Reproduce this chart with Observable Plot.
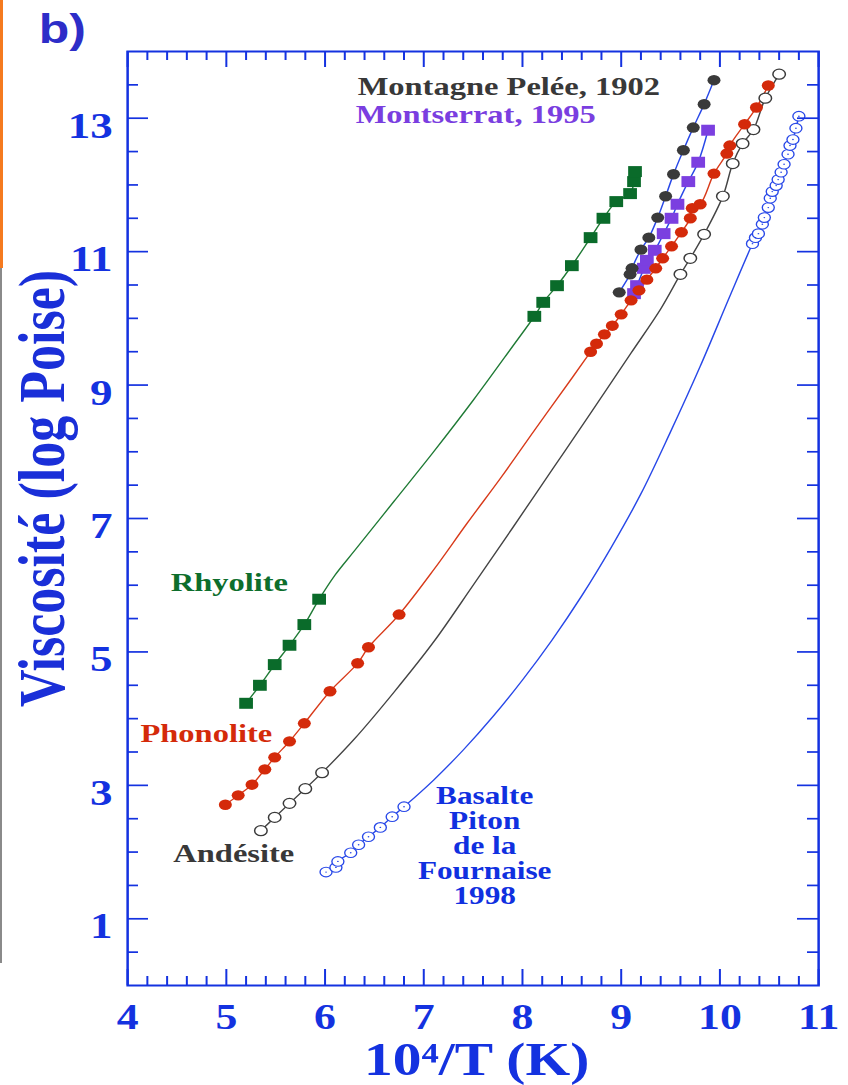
<!DOCTYPE html>
<html><head><meta charset="utf-8">
<script src="https://cdn.jsdelivr.net/npm/d3@7"></script>
<script src="https://cdn.jsdelivr.net/npm/@observablehq/plot@0.6"></script>
<style>
html,body{margin:0;padding:0;background:#fff;}
#wrap{position:relative;width:848px;height:1085px;overflow:hidden;background:#fff;}
#chart{position:absolute;left:0;top:0;}
#orange{position:absolute;left:0;top:0;width:3px;height:268px;background:#f57a1f;}
#gray{position:absolute;left:0;top:268px;width:2px;height:695px;background:#8a8a8a;}
</style></head><body>
<div id="wrap"><div id="chart"></div><div id="orange"></div><div id="gray"></div></div>
<script>
// ---------- data (x = 10^4/T, y = log viscosity) ----------
const rhyolite = [[5.20,4.23],[5.34,4.50],[5.49,4.81],[5.64,5.10],[5.79,5.41],[5.94,5.79],
  [8.12,10.03],[8.21,10.24],[8.35,10.49],[8.50,10.79],[8.69,11.21],[8.82,11.50],[8.95,11.75],[9.09,11.87],[9.13,12.05],[9.14,12.20]];
const rhyoliteFit = [[6.10,6.15],[6.30,6.52],[6.70,7.26],[7.10,8.00],[7.50,8.77],[7.90,9.58]];

const phonolite = [[4.99,2.71],[5.12,2.85],[5.26,3.01],[5.39,3.24],[5.49,3.42],[5.64,3.66],[5.79,3.93],[6.05,4.41],[6.33,4.83],[6.44,5.07],[6.75,5.56],
  [8.69,9.50],[8.75,9.62],[8.83,9.76],[8.91,9.89],[9.00,10.06],[9.10,10.27],[9.18,10.42],[9.26,10.58],[9.35,10.75],[9.42,10.90],[9.51,11.08],[9.61,11.29],[9.70,11.50],[9.72,11.65],[9.80,11.71],[9.94,12.17],[10.07,12.47],[10.10,12.59],[10.25,12.91],[10.37,13.16],[10.49,13.49]];
const phonoliteFit = [[7.11,6.25],[7.44,6.93],[7.79,7.63],[8.12,8.32],[8.47,9.04]];

const andesite = [[5.35,2.32],[5.49,2.52],[5.64,2.73],[5.80,2.95],[5.97,3.19],
  [9.60,10.66],[9.70,10.90],[9.84,11.26],[10.03,11.83],[10.13,12.32],[10.23,12.62],[10.34,12.83],[10.46,13.30],[10.60,13.66]];
const andesiteFit = [[6.30,3.70],[6.70,4.40],[7.10,5.15],[7.50,6.00],[7.90,6.86],[8.30,7.73],[8.70,8.60],[9.10,9.48],[9.40,10.14]];

const basalte = [[6.01,1.70],[6.11,1.77],[6.13,1.86],[6.26,1.99],[6.34,2.11],[6.44,2.23],[6.56,2.37],[6.68,2.53],[6.80,2.68],
  [10.33,11.12],[10.36,11.21],[10.39,11.27],[10.43,11.41],[10.45,11.51],[10.49,11.66],[10.51,11.80],[10.53,11.90],[10.57,11.99],[10.59,12.08],[10.62,12.19],[10.65,12.31],[10.69,12.46],[10.71,12.59],[10.74,12.68],[10.77,12.85],[10.80,13.03]];
const basalteFit = [[7.10,3.08],[7.40,3.53],[7.70,4.03],[8.00,4.58],[8.30,5.18],[8.60,5.84],[8.90,6.57],[9.20,7.37],[9.50,8.30],[9.80,9.28],[10.10,10.33]];

const pelee = [[8.98,10.39],[9.09,10.66],[9.11,10.75],[9.20,11.03],[9.28,11.21],[9.37,11.51],[9.45,11.83],[9.53,12.16],[9.63,12.52],[9.73,12.86],[9.84,13.21],[9.94,13.57]];
const montserrat = [[9.13,10.37],[9.16,10.49],[9.23,10.75],[9.26,10.87],[9.34,11.02],[9.43,11.27],[9.51,11.50],[9.57,11.71],[9.68,12.05],[9.78,12.34],[9.88,12.82]];

// ---------- ticks & labels ----------
const xTickLabels = [4,5,6,7,8,9,10,11];
const yTickLabels = [1,3,5,7,9,11,13];
const xMinorTicks = d3.range(0, 36).map(i => +(4 + i*0.2).toFixed(1)).filter(v => !Number.isInteger(v));
const yMinorTicks = d3.range(1, 28).map(i => i*0.5).filter(v => !(Number.isInteger(v) && v % 2 === 1));
const xAxisTitle = "10\u2074/T (K)";
const yAxisTitle = "Viscosité (log Poise)";
const panelLabel = "b)";
const annotations = [
  {text:"Montagne Pelée, 1902", x:6.33, y:13.47, color:"#383838"},
  {text:"Montserrat, 1995", x:6.31, y:13.05, color:"#7a3ee0"},
  {text:"Rhyolite", x:4.436, y:6.045, color:"#0d6e2c"},
  {text:"Phonolite", x:4.13, y:3.78, color:"#d42a0a"},
  {text:"Andésite", x:4.463, y:1.973, color:"#383838"}
];
const basaltLabel = {text:"Basalte\nPiton\nde la\nFournaise\n1998", x:7.617, y:2.094, color:"#1030e0"};

// ---------- layout ----------
const SX = 1.25;                 // horizontal stretch of the original figure
const W = 848 / SX, H = 1085;
const mL = 127 / SX, mR = 30 / SX, mT = 51, mB = 100;
const innerW = W - mL - mR, innerH = H - mT - mB;
const AX = "#1432e0";
const GREEN = "#0a6b2a", RED = "#d42a0a", DARK = "#3a3a3a", BLUE = "#2848e8", PURPLE = "#7b3fe0";

const pts = a => a.map(([x,y]) => ({x,y}));
const lineOf = (data, fit=[]) => [...data, ...fit].sort((a,b) => a[0]-b[0]).map(([x,y]) => ({x,y}));

const serif = "'Liberation Serif','Times New Roman',serif";

const marks = [
  // fitted curves
  Plot.line(lineOf(rhyolite, rhyoliteFit), {x:"x", y:"y", stroke:"#1f7a35", strokeWidth:1.2, curve:"catmull-rom"}),
  Plot.line(lineOf(phonolite, phonoliteFit), {x:"x", y:"y", stroke:"#d83a1a", strokeWidth:1.2, curve:"catmull-rom"}),
  Plot.line(lineOf(andesite, andesiteFit), {x:"x", y:"y", stroke:"#444", strokeWidth:1.2, curve:"catmull-rom"}),
  Plot.line(lineOf(basalte, basalteFit), {x:"x", y:"y", stroke:BLUE, strokeWidth:1.2, curve:"catmull-rom"}),
  Plot.line(lineOf(pelee), {x:"x", y:"y", stroke:BLUE, strokeWidth:1.2, curve:"catmull-rom"}),
  Plot.line(lineOf(montserrat), {x:"x", y:"y", stroke:BLUE, strokeWidth:1.2, curve:"catmull-rom"}),
  // data points
  Plot.dot(pts(rhyolite), {x:"x", y:"y", symbol:"square", r:6.2, fill:GREEN}),
  Plot.dot(pts(andesite), {x:"x", y:"y", r:5, fill:"white", stroke:DARK, strokeWidth:1.2}),
  Plot.dot(pts(basalte), {x:"x", y:"y", r:4.8, fill:"white", stroke:BLUE, strokeWidth:1.1}),
  Plot.dot(pts(basalte), {x:"x", y:"y", r:0.7, fill:BLUE}),
  Plot.dot(pts(montserrat), {x:"x", y:"y", symbol:"square", r:6.2, fill:PURPLE}),
  Plot.dot(pts(pelee), {x:"x", y:"y", r:5.2, fill:DARK}),
  Plot.dot(pts(phonolite), {x:"x", y:"y", r:5.2, fill:RED}),
  // frame and inward ticks
  Plot.frame({stroke:AX, strokeWidth:2}),
  Plot.ruleX(xMinorTicks, {x:d=>d, stroke:AX, strokeWidth:1.6, insetTop: innerH - 9}),
  Plot.ruleX(xTickLabels, {x:d=>d, stroke:AX, strokeWidth:1.6, insetTop: innerH - 16}),
  Plot.ruleX(xMinorTicks, {x:d=>d, stroke:AX, strokeWidth:1.6, insetBottom: innerH - 9}),
  Plot.ruleX(xTickLabels, {x:d=>d, stroke:AX, strokeWidth:1.6, insetBottom: innerH - 16}),
  Plot.ruleY(yMinorTicks, {y:d=>d, stroke:AX, strokeWidth:1.7, insetRight: innerW - 8.8}),
  Plot.ruleY(yTickLabels, {y:d=>d, stroke:AX, strokeWidth:1.7, insetRight: innerW - 16.8}),
  Plot.ruleY(yMinorTicks, {y:d=>d, stroke:AX, strokeWidth:1.7, insetLeft: innerW - 8.8}),
  Plot.ruleY(yTickLabels, {y:d=>d, stroke:AX, strokeWidth:1.7, insetLeft: innerW - 16.8}),
  // tick labels
  Plot.axisX(xTickLabels, {anchor:"bottom", tickSize:0, tickPadding:19, fontSize:35, color:AX, label:null, tickFormat:d=>String(d)}),
  Plot.axisY(yTickLabels, {anchor:"left", tickSize:0, tickPadding:12, fontSize:36, color:AX, label:null, dy:8, tickFormat:d=>String(d)}),
  // axis titles
  Plot.text([yAxisTitle], {text:d=>d, frameAnchor:"left", textAnchor:"middle", lineAnchor:"middle", rotate:-90, dx:-67.8, dy:-30, fontSize:52, fill:"#1a2fd8", fontFamily:serif, fontWeight:"bold"}),
  Plot.text([xAxisTitle], {text:d=>d, frameAnchor:"bottom", textAnchor:"middle", lineAnchor:"middle", dx:2.8, dy:75, fontSize:46, fill:AX, fontFamily:serif, fontWeight:"bold"}),
  Plot.text([panelLabel], {text:d=>d, frameAnchor:"top-left", textAnchor:"start", lineAnchor:"middle", dx:-71.2, dy:-21, fontSize:40, fill:"#2d2dc8", fontFamily:"'Liberation Sans',Arial,sans-serif", fontWeight:"bold"}),
  // annotations
  ...annotations.map(a => Plot.text([a], {x:"x", y:"y", text:"text", textAnchor:"start", lineAnchor:"middle", fontSize:26, fill:a.color, fontFamily:serif, fontWeight:"bold"})),
  Plot.text([basaltLabel], {x:"x", y:"y", text:"text", textAnchor:"middle", lineAnchor:"middle", lineHeight:1.0, fontSize:25, fill:basaltLabel.color, fontFamily:serif, fontWeight:"bold"})
];

const svg = Plot.plot({
  width: W, height: H,
  marginLeft: mL, marginRight: mR, marginTop: mT, marginBottom: mB,
  x: {domain:[4,11], axis:null},
  y: {domain:[0,14], axis:null},
  style: {background:"white", color:AX, fontFamily:serif, fontWeight:"bold", overflow:"visible"},
  marks
});
svg.setAttribute("width", 848);
svg.setAttribute("height", 1085);
svg.setAttribute("viewBox", `0 0 ${W} ${H}`);
svg.setAttribute("preserveAspectRatio", "none");
svg.style.width = "848px";
svg.style.height = "1085px";
svg.style.maxWidth = "none";
document.getElementById("chart").appendChild(svg);
</script>
</body></html>
